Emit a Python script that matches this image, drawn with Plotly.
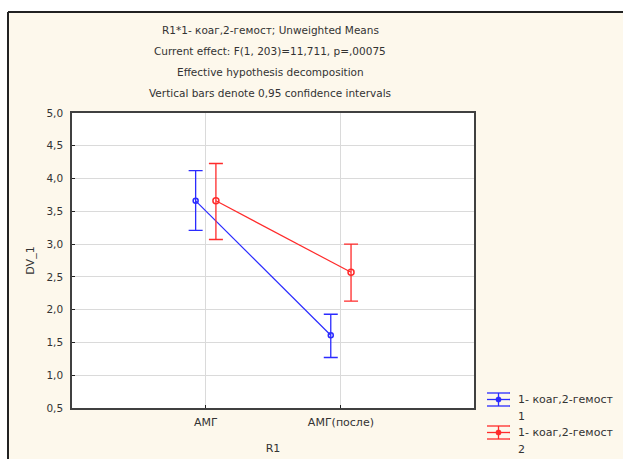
import plotly.graph_objects as go

# Data: group means with 95% confidence limits
categories = ["АМГ", "АМГ(после)"]
series_names = ["1- коаг,2-гемост 1", "1- коаг,2-гемост 2"]
blue_means = [3.66, 1.61]
blue_upper = [4.12, 1.93]
blue_lower = [3.21, 1.27]
red_means = [3.66, 2.57]
red_upper = [4.23, 3.00]
red_lower = [3.07, 2.13]
y_ticks = [0.5, 1.0, 1.5, 2.0, 2.5, 3.0, 3.5, 4.0, 4.5, 5.0]
title_lines = [
    "R1*1- коаг,2-гемост; Unweighted Means",
    "Current effect: F(1, 203)=11,711, p=,00075",
    "Effective hypothesis decomposition",
    "Vertical bars denote 0,95 confidence intervals",
]

W, H = 623, 459
L, R, T, B = 72, 474, 113, 408
FONT = "DejaVu Sans, Verdana, sans-serif"
TXT = "#333333"
BLUE = "#2b2bff"
RED = "#ff2b2b"
CREAM = "#fdf8ec"


def px(x):
    return (x - L) / (R - L)


def py(y):
    return (B - y) / (B - T)


offset = 0.075
xpos = list(range(len(categories)))

fig = go.Figure()


def add_series(means, upper, lower, color, dx, symbol, size):
    fig.add_trace(go.Scatter(
        x=[p + dx for p in xpos],
        y=means,
        mode="lines+markers",
        line=dict(color=color, width=1.2),
        marker=dict(symbol=symbol, size=size, color=color, line=dict(color=color, width=1.5)),
        error_y=dict(
            type="data", symmetric=False,
            array=[u - m for u, m in zip(upper, means)],
            arrayminus=[m - l for m, l in zip(means, lower)],
            color=color, thickness=1.3, width=7,
        ),
        showlegend=False,
        hoverinfo="skip",
    ))


add_series(blue_means, blue_upper, blue_lower, BLUE, -offset, "circle-open", 5)
add_series(red_means, red_upper, red_lower, RED, offset, "circle-open", 6)

shapes = []
# outer page: white strips and dark frame
shapes.append(dict(type="rect", xref="paper", yref="paper", x0=px(0), x1=px(W), y0=py(0), y1=py(12),
                   fillcolor="white", line=dict(width=0), layer="below"))
shapes.append(dict(type="rect", xref="paper", yref="paper", x0=px(0), x1=px(8), y0=py(0), y1=py(H),
                   fillcolor="white", line=dict(width=0), layer="below"))
shapes.append(dict(type="line", xref="paper", yref="paper", x0=px(8), x1=px(W), y0=py(12), y1=py(12),
                   line=dict(color="#222222", width=2)))
shapes.append(dict(type="line", xref="paper", yref="paper", x0=px(8), x1=px(8), y0=py(12), y1=py(H),
                   line=dict(color="#222222", width=2)))

annotations = []
for i, line in enumerate(title_lines):
    annotations.append(dict(text=line, xref="paper", yref="paper", x=px(270), y=py(30 + i * 21),
                            xanchor="center", yanchor="middle", showarrow=False,
                            font=dict(family=FONT, size=10.5, color=TXT)))

# legend entries
for j, (name, color) in enumerate(zip(series_names, [BLUE, RED])):
    yc = 399.5 + j * 33
    x0, x1, xm = 487, 510, 498.5
    for yy in (yc - 6.5, yc, yc + 6.5):
        shapes.append(dict(type="line", xref="paper", yref="paper", x0=px(x0), x1=px(x1),
                           y0=py(yy), y1=py(yy), line=dict(color=color, width=1.3)))
    shapes.append(dict(type="line", xref="paper", yref="paper", x0=px(xm), x1=px(xm),
                       y0=py(yc - 6.5), y1=py(yc + 6.5), line=dict(color=color, width=1.3)))
    shapes.append(dict(type="circle", xref="paper", yref="paper", x0=px(xm - 2.5), x1=px(xm + 2.5),
                       y0=py(yc - 2.5), y1=py(yc + 2.5), fillcolor=color, line=dict(color=color, width=1)))
    label, num = name.rsplit(" ", 1)
    annotations.append(dict(text=label, xref="paper", yref="paper", x=px(516), y=py(yc),
                            xanchor="left", yanchor="middle", showarrow=False,
                            font=dict(family=FONT, size=11, color=TXT)))
    annotations.append(dict(text=num, xref="paper", yref="paper", x=px(516), y=py(yc + 17),
                            xanchor="left", yanchor="middle", showarrow=False,
                            font=dict(family=FONT, size=11, color=TXT)))

fig.update_layout(
    width=W, height=H,
    margin=dict(l=L, r=W - R, t=T, b=H - B, pad=0, autoexpand=False),
    paper_bgcolor=CREAM,
    plot_bgcolor="white",
    separators=",.",
    font=dict(family=FONT, size=11, color=TXT),
    shapes=shapes,
    annotations=annotations,
    showlegend=False,
)

fig.update_xaxes(
    range=[-0.99, 1.985],
    tickvals=xpos, ticktext=categories,
    showgrid=True, gridcolor="#dadada", gridwidth=1.2,
    showline=True, linecolor="#404040", linewidth=1.5, mirror=True,
    ticks="inside", ticklen=3, tickcolor="#222222",
    tickfont=dict(family=FONT, size=11, color=TXT),
    ticklabelstandoff=3,
    title=dict(text="R1", font=dict(family=FONT, size=11, color=TXT), standoff=16),
    zeroline=False, fixedrange=True, automargin=False,
)
fig.update_yaxes(
    range=[0.5, 5.0],
    tickvals=y_ticks, tickformat=".1f",
    showgrid=True, gridcolor="#dadada", gridwidth=1.2,
    showline=True, linecolor="#404040", linewidth=1.5, mirror=True,
    ticks="inside", ticklen=3, tickcolor="#222222",
    tickfont=dict(family=FONT, size=10.5, color=TXT),
    ticklabelstandoff=5,
    title=dict(text="DV_1", font=dict(family=FONT, size=11, color=TXT), standoff=10),
    zeroline=False, fixedrange=True, automargin=False,
)

fig.write_html("out.html", config={"displayModeBar": False})
